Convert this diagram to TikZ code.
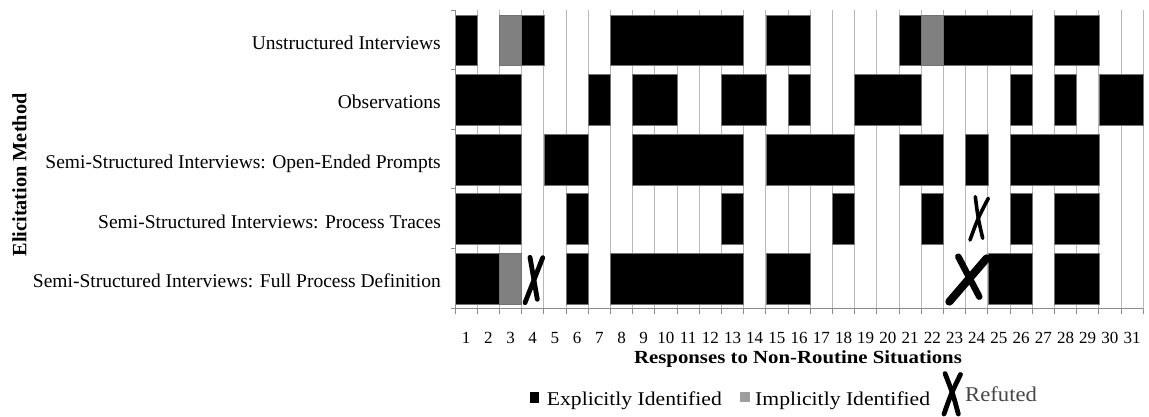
\documentclass[tikz,border=0pt]{standalone}
\usepackage{fontspec}
\setmainfont{Liberation Serif}
\usepackage{graphicx}
\begin{document}
\begin{tikzpicture}[x=1pt,y=-1pt,
  grid/.style={draw=black!28,line width=0.9pt},
  axisline/.style={draw=black!45,line width=0.9pt},
  expl/.style={fill=black,draw=black!55,line width=0.5pt},
  impl/.style={fill=black!50,draw=black!55,line width=0.5pt},
  refx/.style={line width=#1,line cap=round,draw=black},
  rowlabel/.style={anchor=base east,inner sep=0pt,font=\fontsize{19.5}{20}\selectfont},
  num/.style={anchor=base,inner sep=0pt,font=\fontsize{17}{18}\selectfont},
  legtext/.style={anchor=base west,inner sep=0pt},
]
\useasboundingbox[fill=white] (0,0) rectangle (1149,417);
% gridlines
\foreach \k in {1,...,31}
  \draw[grid] ({455+22.2*\k},10) -- ({455+22.2*\k},308.7);
% bars
\foreach \r/\a/\b/\s in {
  1/1/1/expl, 1/3/3/impl, 1/4/4/expl, 1/8/13/expl, 1/15/16/expl, 1/21/21/expl, 1/22/22/impl, 1/23/26/expl, 1/28/29/expl,
  2/1/3/expl, 2/7/7/expl, 2/9/10/expl, 2/13/14/expl, 2/16/16/expl, 2/19/21/expl, 2/26/26/expl, 2/28/28/expl, 2/30/31/expl,
  3/1/3/expl, 3/5/6/expl, 3/9/13/expl, 3/15/18/expl, 3/21/22/expl, 3/24/24/expl, 3/26/29/expl,
  4/1/3/expl, 4/6/6/expl, 4/13/13/expl, 4/18/18/expl, 4/22/22/expl, 4/26/26/expl, 4/28/29/expl,
  5/1/2/expl, 5/3/3/impl, 5/6/6/expl, 5/8/13/expl, 5/15/16/expl, 5/25/26/expl, 5/28/29/expl}
  \path[\s] ({455+22.2*(\a-1)},{10+59.6*(\r-1)+4.8}) rectangle ({455+22.2*\b},{10+59.6*(\r-1)+55.6});
% axes
\draw[axisline] (455,10) -- (455,308.7) -- (1143.2,308.7);
\foreach \k in {0,...,31}
  \draw[axisline] ({455+22.2*\k},308.7) -- ({455+22.2*\k},314);
\foreach \j in {0,...,5}
  \draw[axisline] (451,{10+59.6*\j}) -- (455,{10+59.6*\j});
% refuted marks
\draw[refx=3.6pt] (975.3,196.7) .. controls (978,218) .. (982.7,238.3);
\draw[refx=3.6pt] (988.3,198.3) .. controls (978,218) .. (970,240);
\draw[refx=4.8pt] (530,257.3) .. controls (534,278) .. (537.3,299.3);
\draw[refx=4.8pt] (542.7,257.7) .. controls (533,280) .. (525,302.7);
\draw[refx=6.5pt] (958.3,256.7) -- (979.3,296.7);
\draw[refx=8pt] (986.7,258.3) -- (949.3,301.7);
% row labels
\node[rowlabel] (l1) at (441,49.3) {Unstructured Interviews};
\node[rowlabel] (l2) at (441,108.9) {Observations};
\node[rowlabel] (l3) at (441,168.5) {Semi-Structured Interviews: Open-Ended Prompts};
\node[rowlabel] (l4) at (441,228.1) {Semi-Structured Interviews: Process Traces};
\node[rowlabel] (l5) at (441,287.7) {Semi-Structured Interviews: Full Process Definition};
\node[rotate=90,inner sep=0pt,font=\bfseries\fontsize{20.3}{21}\selectfont] (ylab) at (19.5,175) {Elicitation Method};
% axis numbers
\foreach \k in {1,...,31}
  \node[num] (n\k) at ({455+22.2*(\k-0.5)},343.3) {\k};
\node[anchor=base,inner sep=0pt,font=\bfseries\fontsize{18.5}{19}\selectfont] (xlab) at (798,363.3) {\scalebox{1.125}[1]{Responses to Non-Routine Situations}};
% legend
\path[fill=black] (530,392) rectangle (538.5,402.5);
\node[legtext,font=\fontsize{19.5}{20}\selectfont] (le) at (546.7,405) {\scalebox{1.11}[1]{Explicitly Identified}};
\path[fill=black!38] (740,391.5) rectangle (749.5,401.5);
\node[legtext,font=\fontsize{19.5}{20}\selectfont] (li) at (755,405) {\scalebox{1.11}[1]{Implicitly Identified}};
\draw[refx=4.8pt] (945,373.5) .. controls (953,394) .. (958.3,414);
\draw[refx=4.8pt] (960.5,374.5) .. controls (951,394) .. (944,414);
\node[legtext,text=black!72,font=\fontsize{21}{22}\selectfont] (lr) at (965,401.7) {\scalebox{1.08}[1]{Refuted}};
\end{tikzpicture}
\end{document}
